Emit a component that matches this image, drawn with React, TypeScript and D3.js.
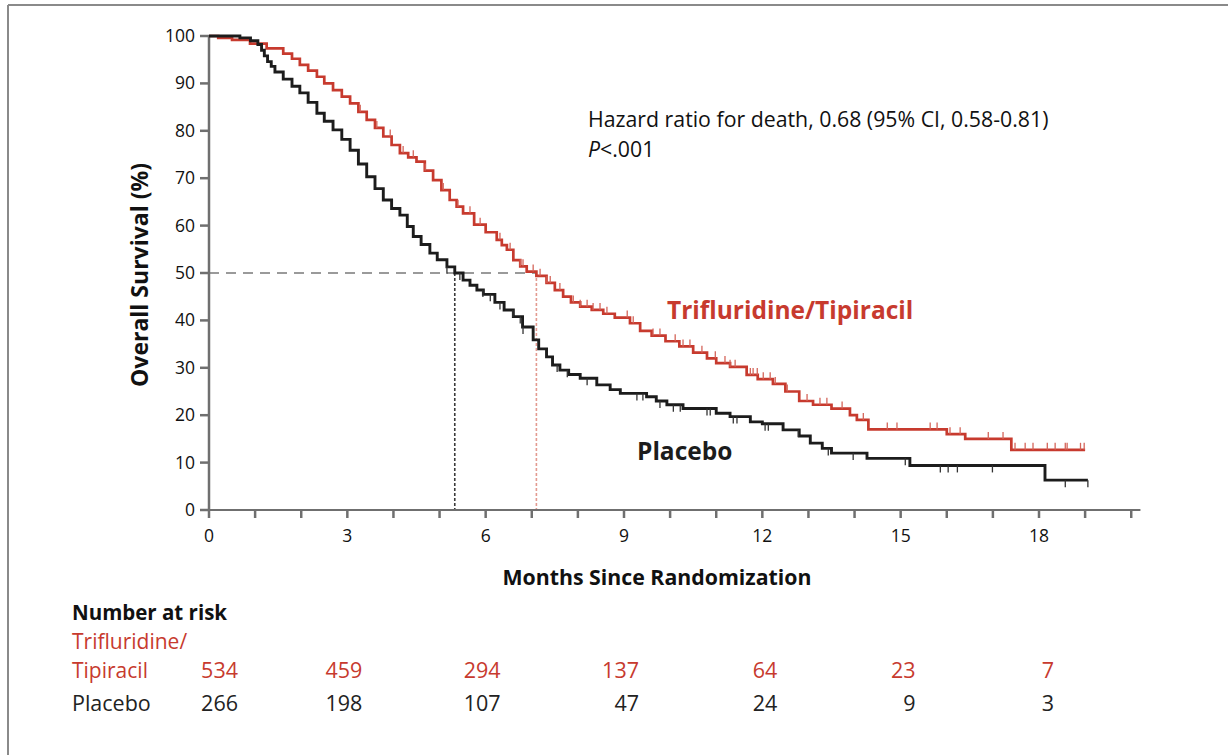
import React, { useEffect } from "react";
import * as d3 from "d3";

// ---------- DATA ----------
const yTickValues = [0, 10, 20, 30, 40, 50, 60, 70, 80, 90, 100];
const xTickLabels = [0, 3, 6, 9, 12, 15, 18];
const xMinorTicks = [0, 1, 2, 3, 4, 5, 6, 7, 8, 9, 10, 11, 12, 13, 14, 15, 16, 17, 18, 19, 20];

// Trifluridine/Tipiracil KM steps (months, % surviving)
const redStepT = [0, 0.2, 0.5, 0.89, 1.25, 1.61, 1.8, 1.97, 2.15, 2.34, 2.5, 2.69, 2.88, 3.06, 3.24, 3.42, 3.6, 3.78, 3.96, 4.14, 4.32, 4.5, 4.68, 4.86, 5.04, 5.22, 5.37, 5.51, 5.75, 6.0, 6.24, 6.35, 6.46, 6.6, 6.75, 6.89, 7.1, 7.32, 7.5, 7.68, 7.85, 8.05, 8.3, 8.55, 8.8, 9.13, 9.35, 9.6, 9.9, 10.2, 10.5, 10.8, 11.0, 11.3, 11.66, 11.9, 12.23, 12.5, 12.8, 13.1, 13.5, 13.9, 14.05, 14.3, 16.0, 16.4, 17.4];
const redStepS = [100, 99.6, 99.2, 98.4, 97.4, 96.3, 95.2, 93.9, 92.7, 91.4, 90.0, 88.6, 87.2, 85.8, 84.0, 82.3, 80.6, 78.8, 77.0, 75.3, 74.4, 73.5, 71.6, 69.6, 67.5, 65.4, 64.0, 62.6, 60.2, 58.6, 57.0, 55.9, 54.9, 52.7, 51.4, 50.3, 49.4, 47.9, 46.4, 45.0, 43.8, 42.9, 42.2, 41.4, 40.6, 39.4, 37.8, 36.8, 35.6, 34.5, 33.2, 32.0, 31.0, 30.2, 28.5, 27.6, 26.6, 25.0, 23.0, 22.2, 21.4, 20.0, 19.0, 17.0, 16.0, 15.0, 12.7];
const redEnd = 19.0;
const redCensor = [3.28, 3.64, 3.93, 4.21, 4.43, 4.69, 5.08, 5.4, 5.66, 5.88, 6.31, 6.53, 6.75, 6.81, 7.03, 7.18, 7.33, 7.4, 7.61, 7.9, 8.05, 8.2, 8.33, 8.48, 8.63, 9.07, 9.2, 9.63, 9.78, 10.11, 10.28, 10.43, 10.69, 10.98, 11.19, 11.3, 11.41, 11.74, 11.8, 11.89, 12.02, 12.17, 12.28, 12.54, 12.97, 13.25, 13.4, 13.73, 14.19, 14.71, 14.92, 15.64, 15.79, 16.07, 16.29, 16.9, 17.22, 17.48, 17.7, 17.87, 18.18, 18.35, 18.57, 18.61, 18.9, 18.98];

// Placebo KM steps
const blackStepT = [0, 0.67, 0.9, 1.06, 1.14, 1.2, 1.27, 1.35, 1.43, 1.61, 1.8, 1.97, 2.15, 2.34, 2.5, 2.69, 2.88, 3.06, 3.24, 3.42, 3.6, 3.78, 3.96, 4.14, 4.3, 4.43, 4.6, 4.79, 4.95, 5.16, 5.33, 5.51, 5.66, 5.81, 5.95, 6.2, 6.4, 6.6, 6.8, 7.03, 7.15, 7.32, 7.45, 7.61, 7.8, 8.05, 8.41, 8.7, 8.92, 9.49, 9.7, 9.93, 10.28, 11.0, 11.3, 11.74, 12.0, 12.45, 12.8, 13.04, 13.3, 13.5, 14.27, 15.2, 18.13];
const blackStepS = [100, 99.6, 99.0, 98.2, 97.0, 95.8, 94.6, 93.6, 92.4, 90.9, 89.4, 88.0, 86.0, 83.7, 82.0, 80.2, 78.2, 75.9, 73.0, 70.3, 67.8, 65.4, 63.6, 62.2, 59.8, 57.7, 56.0, 54.2, 52.8, 51.3, 50.0, 48.5, 47.4, 46.4, 45.5, 43.8, 42.2, 40.8, 38.6, 35.9, 34.0, 32.3, 30.6, 29.5, 28.6, 27.8, 26.4, 25.4, 24.6, 23.9, 23.0, 22.2, 21.4, 20.4, 19.7, 18.6, 18.2, 16.9, 15.6, 14.1, 13.0, 12.0, 10.9, 9.4, 6.3];
const blackEnd = 19.06;
const blackCensor = [5.16, 5.44, 5.94, 6.1, 6.31, 6.59, 6.75, 6.81, 7.55, 7.77, 8.2, 9.28, 9.41, 9.78, 10.07, 10.22, 10.8, 10.87, 11.37, 11.45, 12.06, 12.13, 12.78, 13.43, 13.97, 15.1, 15.86, 16.03, 16.23, 16.99, 18.57, 19.06];

const medianRed = 7.1;
const medianPlacebo = 5.33;

const riskTimes = [0, 3, 6, 9, 12, 15, 18];
const riskRed = [534, 459, 294, 137, 64, 23, 7];
const riskPlacebo = [266, 198, 107, 47, 24, 9, 3];

// ---------- STYLE ----------
const RED = "#c73a2e";
const RED_TICK = "#d4655a";
const BLACK = "#1c1c1c";
const AXIS = "#6f6f6f";
const FONT = "'Open Sans', 'Noto Sans', sans-serif";

const W = 1228;
const H = 755;

export default function App() {
  useEffect(() => {
    document.body.style.margin = "0";
  }, []);

  const x = d3.scaleLinear().domain([0, 18]).range([209, 1039]);
  const y = d3.scaleLinear().domain([0, 100]).range([510, 36]);

  const stepLine = d3
    .line<[number, number]>()
    .x((d) => x(d[0]))
    .y((d) => y(d[1]))
    .curve(d3.curveStepAfter);

  const mkPts = (ts: number[], ss: number[], end: number): [number, number][] => {
    const pts: [number, number][] = ts.map((t, i) => [t, ss[i]]);
    pts.push([end, ss[ss.length - 1]]);
    return pts;
  };

  const survAt = (ts: number[], ss: number[], t: number) => {
    const i = d3.bisectRight(ts, t) - 1;
    return ss[Math.max(0, i)];
  };

  const redPts = mkPts(redStepT, redStepS, redEnd);
  const blackPts = mkPts(blackStepT, blackStepS, blackEnd);

  const tickLen = 7;

  return (
    <svg width={W} height={H} style={{ display: "block", background: "#fff" }} fontFamily={FONT}>
      {/* frame */}
      <line x1={8} y1={5} x2={W} y2={5} stroke="#8a8a8a" strokeWidth={2} />
      <line x1={8} y1={5} x2={8} y2={H} stroke="#8a8a8a" strokeWidth={2} />

      {/* median reference lines */}
      <line x1={x(0)} x2={x(medianRed)} y1={y(50)} y2={y(50)} stroke="#7a7a7a" strokeWidth={1.6} strokeDasharray="10 7" />
      <line x1={x(medianPlacebo)} x2={x(medianPlacebo)} y1={y(50)} y2={y(0)} stroke="#3a3a3a" strokeWidth={1.6} strokeDasharray="3 2" />
      <line x1={x(medianRed)} x2={x(medianRed)} y1={y(50)} y2={y(0)} stroke="#e39a90" strokeWidth={1.6} strokeDasharray="3 2" />

      {/* axes */}
      <line x1={x(0)} x2={x(0)} y1={y(100)} y2={y(0)} stroke={AXIS} strokeWidth={2.5} />
      <line x1={x(0)} x2={x(20.2)} y1={y(0)} y2={y(0)} stroke={AXIS} strokeWidth={2} />
      {yTickValues.map((v) => (
        <g key={"yt" + v}>
          <line x1={x(0) - 9} x2={x(0)} y1={y(v)} y2={y(v)} stroke={AXIS} strokeWidth={2.5} />
          <text x={195} y={y(v) + 6} textAnchor="end" fontSize={17.5} fill="#111">
            {v}
          </text>
        </g>
      ))}
      {xMinorTicks.map((t) => (
        <line key={"xm" + t} x1={x(t)} x2={x(t)} y1={y(0)} y2={y(0) + 8} stroke={AXIS} strokeWidth={2.5} />
      ))}
      {xTickLabels.map((t) => (
        <text key={"xl" + t} x={x(t)} y={542} textAnchor="middle" fontSize={17.5} fill="#111">
          {t}
        </text>
      ))}

      {/* curves */}
      <path d={stepLine(redPts) || ""} fill="none" stroke={RED} strokeWidth={2.7} />
      {redCensor.map((t, i) => {
        const yy = y(survAt(redStepT, redStepS, t));
        return <line key={"rc" + i} x1={x(t)} x2={x(t)} y1={yy} y2={yy - tickLen} stroke={RED_TICK} strokeWidth={1.3} />;
      })}
      <path d={stepLine(blackPts) || ""} fill="none" stroke={BLACK} strokeWidth={2.9} />
      {blackCensor.map((t, i) => {
        const yy = y(survAt(blackStepT, blackStepS, t));
        return <line key={"bc" + i} x1={x(t)} x2={x(t)} y1={yy} y2={yy + tickLen} stroke="#333" strokeWidth={1.3} />;
      })}

      {/* annotations */}
      <text x={588} y={127} fontSize={21.3} fill="#111">
        Hazard ratio for death, 0.68 (95% CI, 0.58-0.81)
      </text>
      <text x={588} y={157} fontSize={21.3} fill="#111">
        <tspan fontStyle="italic">P</tspan>&lt;.001
      </text>
      <text x={667} y={319} fontSize={24.5} fontWeight="bold" fill={RED}>
        Trifluridine/Tipiracil
      </text>
      <text x={637} y={460} fontSize={24.5} fontWeight="bold" fill={BLACK}>
        Placebo
      </text>

      {/* axis titles */}
      <text transform="translate(148,275) rotate(-90)" textAnchor="middle" fontSize={23} fontWeight="bold" fill="#111">
        Overall Survival (%)
      </text>
      <text x={657} y={585} textAnchor="middle" fontSize={21.3} fontWeight="bold" fill="#111">
        Months Since Randomization
      </text>

      {/* number at risk */}
      <text x={72} y={620} fontSize={20.5} fontWeight="bold" fill="#111">
        Number at risk
      </text>
      <text x={72} y={649} fontSize={21} fill={RED}>
        Trifluridine/
      </text>
      <text x={72} y={678} fontSize={21} fill={RED}>
        Tipiracil
      </text>
      <text x={72} y={711} fontSize={21.5} fill="#222">
        Placebo
      </text>
      {riskTimes.map((t, i) => (
        <g key={"rk" + t}>
          <text x={x(t) + (i === 0 ? 29 : 15)} y={678} textAnchor="end" fontSize={21.5} fill={RED}>
            {riskRed[i]}
          </text>
          <text x={x(t) + (i === 0 ? 29 : 15)} y={711} textAnchor="end" fontSize={21.5} fill="#222">
            {riskPlacebo[i]}
          </text>
        </g>
      ))}
    </svg>
  );
}
